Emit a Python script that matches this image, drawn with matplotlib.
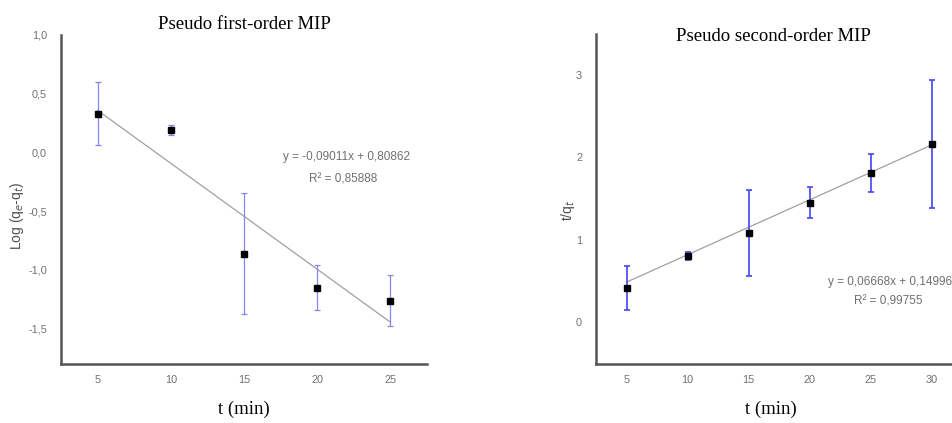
import numpy as np
import matplotlib
matplotlib.use("Agg")
import matplotlib.pyplot as plt
from matplotlib.ticker import FuncFormatter

# pseudo first-order data
t1 = [5, 10, 15, 20, 25]
log_q = [0.33, 0.19, -0.86, -1.15, -1.26]
log_q_err = [0.27, 0.04, 0.515, 0.19, 0.22]
slope1, icpt1 = -0.09011, 0.80862
r2_1 = "0,85888"

# pseudo second-order data
t2 = [5, 10, 15, 20, 25, 30]
t_over_q = [0.41, 0.80, 1.08, 1.45, 1.81, 2.16]
t_over_q_err = [0.27, 0.05, 0.52, 0.19, 0.23, 0.78]
slope2, icpt2 = 0.06668, 0.14996
r2_2 = "0,99755"

axis_col = "#555555"
tick_col = "#707070"
serif = ["Liberation Serif", "DejaVu Serif"]
sans = ["Liberation Sans", "DejaVu Sans"]

fig = plt.figure(figsize=(9.53, 4.23), dpi=100)
ax1 = fig.add_axes([0.064, 0.1395, 0.384, 0.778])
ax2 = fig.add_axes([0.6254, 0.1395, 0.3846, 0.781])

comma = FuncFormatter(lambda v, p: ("%.1f" % v).replace(".", ","))


def dec(v):
    return ("%.5f" % v).replace(".", ",")


def style(ax):
    for s in ["top", "right"]:
        ax.spines[s].set_visible(False)
    for s in ["left", "bottom"]:
        ax.spines[s].set_color(axis_col)
        ax.spines[s].set_linewidth(1.8)
    ax.tick_params(length=0, labelsize=7.8, labelcolor=tick_col,
                   labelfontfamily=sans)
    ax.tick_params(axis="x", pad=8)
    ax.tick_params(axis="y", pad=10)


def draw(ax, x, y, err, slope, icpt, ecol, elw):
    xs = np.array([x[0], x[-1]])
    ax.plot(xs, slope * xs + icpt, color="#a0a0a0", lw=0.9, zorder=1)
    ax.errorbar(x, y, yerr=err, fmt="none", ecolor=ecol, elinewidth=elw,
                capsize=2.5, capthick=elw, zorder=2)
    ax.plot(x, y, "s", color="black", ms=5, zorder=3)


# left: pseudo first-order
style(ax1)
draw(ax1, t1, log_q, log_q_err, slope1, icpt1, "#8585f0", 0.9)
ax1.set_xlim(2.5, 27.5)
ax1.set_ylim(-1.8, 1.0)
ax1.set_xticks(t1)
ax1.set_yticks([1.0, 0.5, 0.0, -0.5, -1.0, -1.5])
ax1.yaxis.set_major_formatter(comma)
ax1.set_title("Pseudo first-order MIP", family=serif, fontsize=13.5, pad=4)
ax1.set_xlabel("t (min)", family=serif, fontsize=13.5, labelpad=11)
ax1.set_ylabel("Log (q$_e$-q$_t$)", family=sans, fontsize=10,
               color="#505050")
ax1.yaxis.set_label_coords(-0.095, 0.45)
ax1.text(0.78, 0.62, "y = %sx + %s" % (dec(slope1), dec(icpt1)),
         transform=ax1.transAxes, ha="center", fontsize=8.5,
         color="#707070", family=sans)
ax1.text(0.77, 0.553, "R² = " + r2_1, transform=ax1.transAxes, ha="center",
         fontsize=8.5, color="#707070", family=sans)

# right: pseudo second-order
style(ax2)
draw(ax2, t2, t_over_q, t_over_q_err, slope2, icpt2, "#4545f2", 1.2)
ax2.set_xlim(2.5, 32.5)
ax2.set_ylim(-0.51, 3.5)
ax2.set_xticks(t2)
ax2.set_yticks([0, 1, 2, 3])
ax2.text(0.483, 0.99, "Pseudo second-order MIP", transform=ax2.transAxes,
         ha="center", va="center", family=serif, fontsize=13.5)
ax2.set_xlabel("t (min)", family=serif, fontsize=13.5, labelpad=11, x=0.477)
ax2.set_ylabel("t/q$_t$", family=sans, fontsize=10, color="#505050")
ax2.yaxis.set_label_coords(-0.052, 0.467)
ax2.text(0.632, 0.24, "y = %sx + %s" % (dec(slope2), dec(icpt2)),
         transform=ax2.transAxes, ha="left", fontsize=8.5, color="#707070",
         family=sans)
ax2.text(0.797, 0.18, "R² = " + r2_2, transform=ax2.transAxes, ha="center",
         fontsize=8.5, color="#707070", family=sans)

fig.savefig("out.png", dpi=100)
